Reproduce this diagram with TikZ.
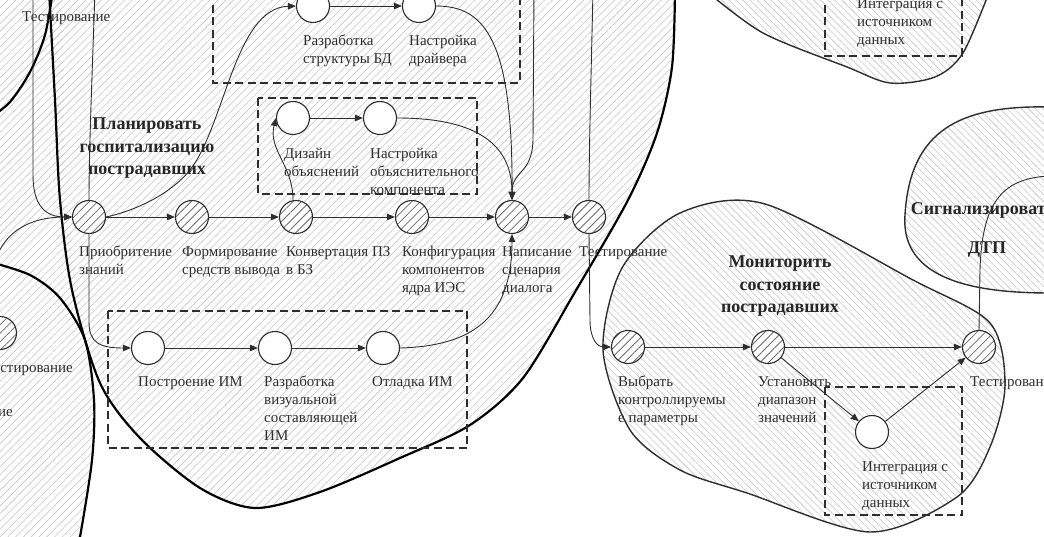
\documentclass[tikz,border=0pt]{standalone}
\usepackage{fontspec}
\setmainfont{Liberation Serif}
\usetikzlibrary{arrows.meta,patterns.meta}

\definecolor{ink}{HTML}{2E2E2E}
\definecolor{hatchgray}{HTML}{C6C6C6}
\definecolor{dothatch}{HTML}{6A6A6A}

\newcommand\lblfont{\fontsize{15}{18}\selectfont}
\newcommand\ttlfont{\bfseries\fontsize{18}{22.5}\selectfont}

\begin{document}
\begin{tikzpicture}[x=1pt,y=-1pt,
  act/.style={circle, draw=ink, line width=1.1pt, fill=white, minimum size=33pt, inner sep=0pt},
  hact/.style={act, preaction={fill=white},
    pattern={Lines[angle=45,distance=6pt,line width=0.8pt]}, pattern color=dothatch},
  hatchA/.style={pattern={Lines[angle=45,distance=5.5pt,line width=0.6pt]}, pattern color=hatchgray},
  hatchB/.style={pattern={Lines[angle=-45,distance=5pt,line width=0.6pt]}, pattern color=hatchgray},
  bthick/.style={draw=black, line width=2.2pt},
  bthin/.style={draw=ink, line width=1.4pt},
  grp/.style={draw=ink, line width=1.3pt, dash pattern=on 8pt off 4.5pt},
  link/.style={draw=ink, line width=0.9pt},
  arr/.style={link, -{Triangle[length=8pt,width=6.5pt]}},
  lbl/.style={font=\lblfont, text=ink, align=left, inner sep=0pt, anchor=north west},
  ttl/.style={font=\ttlfont, text=black!85, align=center, inner sep=0pt},
]
\useasboundingbox (0,0) rectangle (1044,537);
\clip (0,0) rectangle (1044,537);

% ---- hatched areas ----
\fill[hatchA] (-10,-10) -- (62,-10) -- (66,200) -- (78,290) -- (85,340)
  -- plot[smooth] coordinates {(85,340) (94,400) (92,460) (80,537) (76,550)} -- (-10,550) -- cycle;
\fill[hatchA] plot[smooth] coordinates {(49,-10) (55,100) (60,200) (72,290) (100,383) (140,438)
  (200,488) (255,508) (320,492) (400,458) (470,425) (523,378) (575,292) (628,200) (657,133)
  (672,67) (675,-10)} -- (675,-30) -- (49,-30) -- cycle;
\fill[hatchB] plot[smooth cycle] coordinates {(603,350) (622,268) (680,213) (765,204) (913,280)
  (990,323) (1005,385) (990,447) (957,497) (870,532) (747,493) (680,470) (630,430)};
\fill[hatchB] (1050,107) .. controls (960,105) and (910,130) .. (905,215)
  .. controls (900,282) and (980,293) .. (1050,293) -- cycle;
\fill[hatchB] plot[smooth] coordinates {(705,-10) (763,33) (847,67) (890,83) (935,77) (963,53) (990,-10)} -- cycle;

% ---- activity outlines ----
\draw[bthick] plot[smooth] coordinates {(49,-10) (55,100) (60,200) (72,290) (100,383) (140,438)
  (200,488) (255,508) (320,492) (400,458) (470,425) (523,378) (575,292) (628,200) (657,133)
  (672,67) (675,-10)};
\draw[bthick] plot[smooth] coordinates {(-10,262) (30,275) (60,298) (85,340) (94,400) (92,460) (80,537) (76,550)};
\draw[bthick] plot[smooth] coordinates {(-10,118) (10,102) (30,72) (45,35) (53,-10)};
\draw[bthin] plot[smooth cycle] coordinates {(603,350) (622,268) (680,213) (765,204) (913,280)
  (990,323) (1005,385) (990,447) (957,497) (870,532) (747,493) (680,470) (630,430)};
\draw[bthin] (1050,107) .. controls (960,105) and (910,130) .. (905,215)
  .. controls (900,282) and (980,293) .. (1050,293);
\draw[bthin] plot[smooth] coordinates {(705,-10) (763,33) (847,67) (890,83) (935,77) (963,53) (990,-10)};

% ---- groups ----
\draw[grp] (213,-20) rectangle (520,83);
\draw[grp] (258,98) rectangle (477,194);
\draw[grp] (108,311) rectangle (467,448);
\draw[grp] (825,387) rectangle (962,515);
\draw[grp] (825,-20) rectangle (962,56);

% ---- activities ----
\node[hact] (n1) at (89,217) {};
\node[hact] (n2) at (192,217) {};
\node[hact] (n3) at (296,217) {};
\node[hact] (n4) at (412,217) {};
\node[hact] (n5) at (512,217) {};
\node[hact] (n6) at (589,217) {};
\node[act] (b1) at (313,6) {};
\node[act] (b2) at (419,6) {};
\node[act] (e1) at (293,118) {};
\node[act] (e2) at (380,118) {};
\node[act] (m1) at (148,348) {};
\node[act] (m2) at (275,348) {};
\node[act] (m3) at (383,348) {};
\node[hact] (s1) at (628,347) {};
\node[hact] (s2) at (768,347) {};
\node[hact] (s3) at (979,347) {};
\node[act] (s4) at (872,432) {};
\node[hact] (x0) at (0,333) {};

% ---- connectors ----
\draw[arr] (n1) -- (n2);
\draw[arr] (n2) -- (n3);
\draw[arr] (n3) -- (n4);
\draw[arr] (n4) -- (n5);
\draw[arr] (n5) -- (n6);
\draw[arr] (n1.east) .. controls (130,212) and (168,197) .. (190,170)
  .. controls (225,125) and (235,8) .. (b1.west);
\draw[arr] (b1) -- (b2);
\draw[arr] (b2.east) .. controls (485,6) and (513,40) .. (n5.north);
\draw[arr] (534,-10) -- (533,140) .. controls (532,175) and (512,170) .. (n5.north);
\draw[arr] (n3.100) .. controls (293,165) and (268,150) .. (e1.west);
\draw[arr] (e1) -- (e2);
\draw[arr] (e2.east) .. controls (470,118) and (512,140) .. (n5.north);
\draw[arr] (n1.south) -- (89,322) .. controls (89,343) and (100,348) .. (m1.west);
\draw[arr] (m1) -- (m2);
\draw[arr] (m2) -- (m3);
\draw[arr] (m3.east) .. controls (470,346) and (512,320) .. (n5.south);
\draw[arr] (33,-10) -- (33,175) .. controls (33,205) and (45,217) .. (n1.west);
\draw[arr] (-5,262) .. controls (5,228) and (35,217) .. (n1.west);
\draw[link] (95,-10) .. controls (92,80) and (89,150) .. (n1.north);
\draw[link] (593,-10) .. controls (591,80) and (589,150) .. (n6.north);
\draw[arr] (n6.south) -- (590,320) .. controls (590,340) and (598,347) .. (s1.west);
\draw[arr] (s1) -- (s2);
\draw[arr] (s2) -- (s3);
\draw[arr] (s2) -- (s4);
\draw[arr] (s4) -- (s3);
\draw[link] (s3.north) -- (980,270) .. controls (982,205) and (1000,178) .. (1050,176);

% ---- labels ----
\node[lbl] (l1) at (79,244) {\strut Приобритение\\знаний};
\node[lbl] (l2) at (182,244) {\strut Формирование\\средств вывода};
\node[lbl] (l3) at (286,244) {\strut Конвертация ПЗ\\в БЗ};
\node[lbl] (l4) at (402,244) {\strut Конфигурация\\компонентов\\ядра ИЭС};
\node[lbl] (l5) at (502,244) {\strut Написание\\сценария\\диалога};
\node[lbl] (l6) at (579,244) {\strut Тестирование};
\node[lbl] (lb1) at (303,33) {\strut Разработка\\структуры БД};
\node[lbl] (lb2) at (409,33) {\strut Настройка\\драйвера};
\node[lbl] (le1) at (284,146) {\strut Дизайн\\объяснений};
\node[lbl] (le2) at (370,146) {\strut Настройка\\объяснительного\\компонента};
\node[lbl] (lm1) at (138,374) {\strut Построение ИМ};
\node[lbl] (lm2) at (264,374) {\strut Разработка\\визуальной\\составляющей\\ИМ};
\node[lbl] (lm3) at (372,374) {\strut Отладка ИМ};
\node[lbl] (ls1) at (618,374) {\strut Выбрать\\контроллируемы\\е параметры};
\node[lbl] (ls2) at (758,374) {\strut Установить\\диапазон\\значений};
\node[lbl] (ls3) at (970,374) {\strut Тестирование};
\node[lbl] (ls4) at (862,459) {\strut Интеграция с\\источником\\данных};
\node[lbl] (ltr) at (857,-4) {\strut Интеграция с\\источником\\данных};
\node[lbl, anchor=base west] (ltl) at (22,22) {Тестирование};
\node[lbl, anchor=base east] (llf) at (73,372) {Тестирование};
\node[lbl, anchor=base east] (lie) at (13,416) {ие};

\node[ttl, anchor=north] (t1) at (147,114) {\strut Планировать\\госпитализацию\\пострадавших};
\node[ttl, anchor=north] (t2) at (780,252) {\strut Мониторить\\состояние\\пострадавших};
\node[ttl, anchor=base] (t3) at (983,215) {Сигнализировать};
\node[ttl, anchor=base] (t4) at (987,254) {ДТП};
\end{tikzpicture}
\end{document}
